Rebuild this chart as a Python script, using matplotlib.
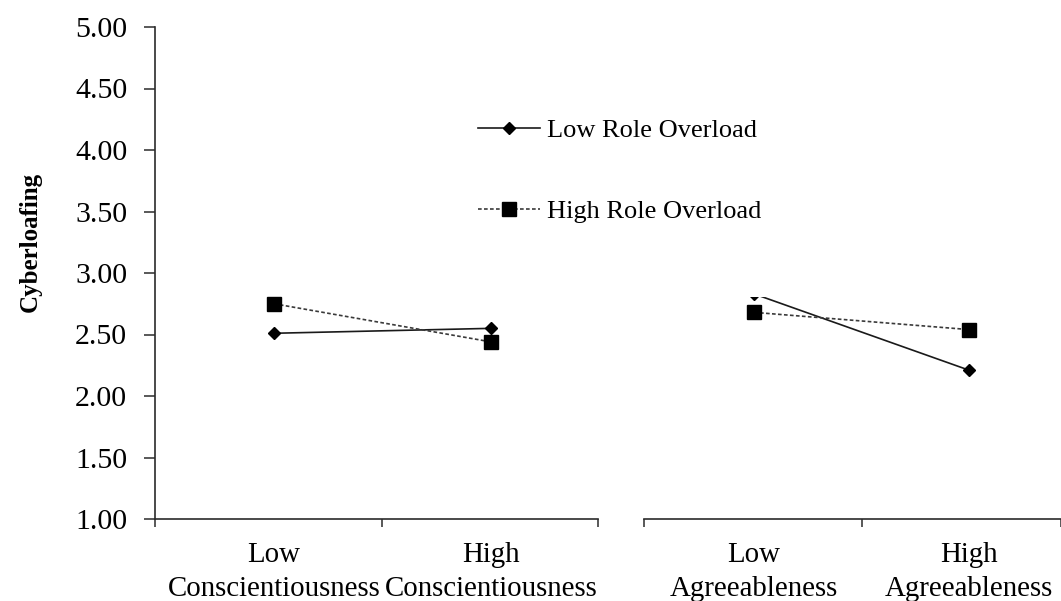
import matplotlib
matplotlib.use("Agg")
import matplotlib.pyplot as plt
import matplotlib.transforms as mtransforms
from matplotlib.lines import Line2D
from matplotlib.patches import Rectangle

plt.rcParams['font.family'] = ['Liberation Serif', 'DejaVu Serif']

# ---- data ----
left_categories = ["Low\nConscientiousness", "High\nConscientiousness"]
right_categories = ["Low\nAgreeableness", "High\nAgreeableness"]
series_names = ["Low Role Overload", "High Role Overload"]
left_low_ro = [2.51, 2.55]
left_high_ro = [2.75, 2.44]
right_low_ro = [2.83, 2.21]
right_high_ro = [2.68, 2.54]
y_ticks = [1.00, 1.50, 2.00, 2.50, 3.00, 3.50, 4.00, 4.50, 5.00]
y_label = "Cyberloafing"

W, H = 1061, 601
fig = plt.figure(figsize=(W / 100, H / 100), dpi=100)

def fx(px):
    return px / W

def fy(py):
    return 1 - py / H

axis_col = "#2b2b2b"
line_col = "#1a1a1a"
dash_col = "#3a3a3a"
tick_fs = 21.5
cat_fs = 20.8

# left panel
axL = fig.add_axes([fx(155), fy(519), fx(598) - fx(155), fy(27) - fy(519)])
# right panel
axR = fig.add_axes([fx(644), fy(519), fx(1061) - fx(644), fy(27) - fy(519)])

low_style = dict(color=line_col, lw=1.2, marker='D', ms=6.3, mfc='black', mec='black', zorder=3)
high_style = dict(color=dash_col, lw=1.2, ls=(0, (2.2, 1.4)), marker='s', ms=9.5, mfc='black', mec='black', zorder=3)

offset = mtransforms.ScaledTranslation(0, -23.5 / 100, fig.dpi_scale_trans)

for ax, cats, lo, hi, xl in [
    (axL, left_categories, left_low_ro, left_high_ro, (-0.548, 1.493)),
    (axR, right_categories, right_low_ro, right_high_ro, (-0.512, 1.428)),
]:
    xs = list(range(len(cats)))
    ax.plot(xs, lo, **low_style, clip_on=False)
    ax.plot(xs, hi, **high_style, clip_on=False)
    ax.set_xlim(*xl)
    ax.set_ylim(1, 5)
    ax.set_xticks([xl[0], 0.5, xl[1]])
    ax.set_xticklabels([])
    ax.tick_params(axis='x', direction='out', length=6, width=1.1, color=axis_col)
    for i, c in enumerate(cats):
        ax.text(xs[i], 1, c, transform=ax.transData + offset, ha='center', va='top',
                fontsize=cat_fs, linespacing=1.36, color='black')
    for s in ['top', 'right']:
        ax.spines[s].set_visible(False)
    ax.spines['bottom'].set_color(axis_col)
    ax.spines['bottom'].set_linewidth(1.2)
    ax.patch.set_alpha(0)

axL.set_yticks(y_ticks)
axL.set_yticklabels([f"{v:.2f}" for v in y_ticks], fontsize=tick_fs)
axL.tick_params(axis='y', direction='out', length=8, width=1.1, color=axis_col, pad=12)
axL.spines['left'].set_color(axis_col)
axL.spines['left'].set_linewidth(1.2)

axR.spines['left'].set_visible(False)
axR.set_yticks([])

fig.text(fx(30), fy(242), y_label, rotation=90, ha='center', va='center',
         fontsize=18, fontweight='bold')

# white legend background (covers part of the plot, as in the reference)
fig.patches.append(Rectangle((fx(460), fy(296.5)), fx(800) - fx(460), fy(80) - fy(296.5),
                             transform=fig.transFigure, facecolor='white', edgecolor='none', zorder=4))

handles = [
    Line2D([], [], color=line_col, lw=1.2, marker='D', ms=6.3, mfc='black', mec='black'),
    Line2D([], [], color=dash_col, lw=1.2, ls=(0, (2.2, 1.4)), marker='s', ms=9.5, mfc='black', mec='black'),
]
leg = fig.legend(handles, series_names, loc='upper left', bbox_to_anchor=(fx(478), fy(119)),
                 frameon=False, fontsize=19.0, handlelength=2.35, handletextpad=0.27,
                 labelspacing=2.17, borderpad=0, borderaxespad=0, numpoints=1)
leg.set_zorder(6)

fig.savefig("out.png", dpi=100)
